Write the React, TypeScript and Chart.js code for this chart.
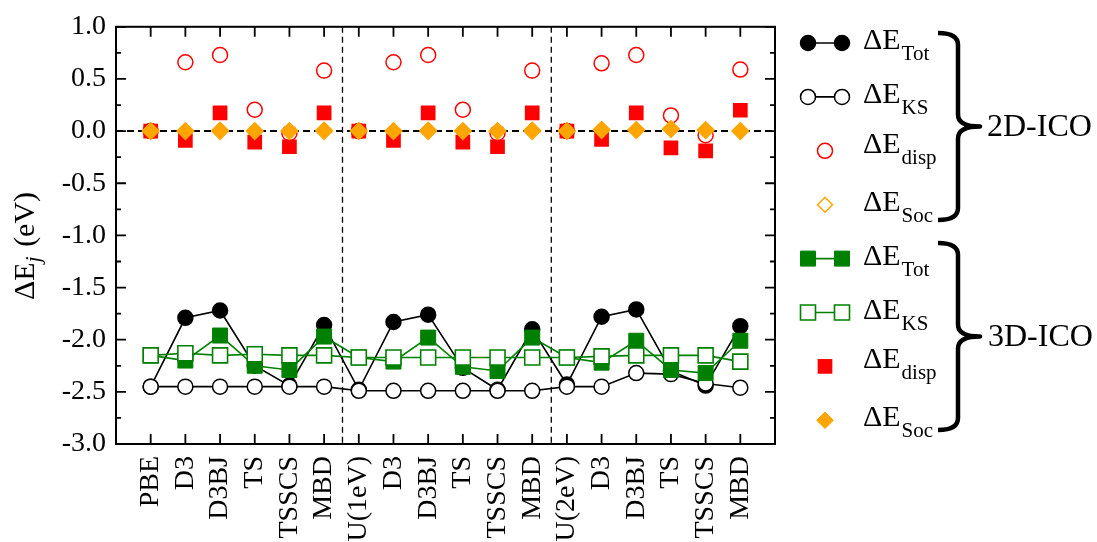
import React, { useEffect, useRef } from 'react';
import { Chart, registerables } from 'chart.js';

Chart.register(...registerables);

const SERIF = '"Liberation Serif", "Times New Roman", Times, serif';

// ---------- data ----------
const categories = [
  'PBE', 'D3', 'D3BJ', 'TS', 'TSSCS', 'MBD',
  'U(1eV)', 'D3', 'D3BJ', 'TS', 'TSSCS', 'MBD',
  'U(2eV)', 'D3', 'D3BJ', 'TS', 'TSSCS', 'MBD',
];

const groupSeparators = [5.53, 11.55];

const yMajorTicks = [-3.0, -2.5, -2.0, -1.5, -1.0, -0.5, 0.0, 0.5, 1.0];
const yMinorTicks = [-2.75, -2.25, -1.75, -1.25, -0.75, -0.25, 0.25, 0.75];

// 2D-ICO
const tot2D = [-2.45, -1.79, -1.72, -2.25, -2.44, -1.86, -2.48, -1.83, -1.76, -2.27, -2.48, -1.90, -2.43, -1.78, -1.71, -2.30, -2.44, -1.87];
const ks2D = [-2.45, -2.45, -2.45, -2.45, -2.45, -2.45, -2.49, -2.49, -2.49, -2.49, -2.49, -2.49, -2.45, -2.45, -2.32, -2.33, -2.42, -2.46];
const disp2D = [0.0, 0.66, 0.73, 0.205, -0.02, 0.58, 0.0, 0.66, 0.73, 0.205, -0.02, 0.58, 0.0, 0.65, 0.73, 0.15, -0.04, 0.59];
const soc2D = [0.0, 0.0, 0.0, 0.0, 0.0, 0.0, 0.0, 0.0, 0.0, 0.0, 0.0, 0.0, 0.0, 0.01, 0.01, 0.02, 0.01, 0.0];

// 3D-ICO
const tot3D = [-2.15, -2.20, -1.96, -2.25, -2.29, -1.97, -2.17, -2.21, -1.98, -2.26, -2.30, -1.98, -2.17, -2.22, -2.01, -2.29, -2.32, -2.01];
const ks3D = [-2.15, -2.13, -2.15, -2.14, -2.15, -2.15, -2.17, -2.17, -2.17, -2.17, -2.17, -2.17, -2.17, -2.16, -2.15, -2.15, -2.15, -2.21];
const disp3D = [0.0, -0.09, 0.175, -0.105, -0.15, 0.175, 0.0, -0.09, 0.175, -0.105, -0.15, 0.175, 0.0, -0.08, 0.175, -0.16, -0.19, 0.2];
const soc3D = [0.0, 0.0, 0.01, 0.0, 0.0, 0.01, 0.0, 0.0, 0.01, 0.0, 0.0, 0.01, 0.0, 0.016, 0.01, 0.02, 0.006, 0.0];

const legendSubs = ['Tot', 'KS', 'disp', 'Soc', 'Tot', 'KS', 'disp', 'Soc'];
const groupNames = ['2D-ICO', '3D-ICO'];

const toPts = (arr: number[]) => arr.map((v, i) => ({ x: i, y: v }));

// ---------- marker helper (for legend) ----------
function drawMarker(ctx: CanvasRenderingContext2D, style: string, x: number, y: number, r: number, fill: string, stroke: string, lw: number) {
  ctx.beginPath();
  if (style === 'circle') {
    ctx.arc(x, y, r, 0, Math.PI * 2);
  } else if (style === 'rect') {
    const s = r * Math.SQRT1_2;
    ctx.rect(x - s, y - s, 2 * s, 2 * s);
  } else {
    ctx.moveTo(x, y - r);
    ctx.lineTo(x + r, y);
    ctx.lineTo(x, y + r);
    ctx.lineTo(x - r, y);
    ctx.closePath();
  }
  ctx.fillStyle = fill;
  ctx.fill();
  if (lw > 0) {
    ctx.lineWidth = lw;
    ctx.strokeStyle = stroke;
    ctx.stroke();
  }
}

function drawBrace(ctx: CanvasRenderingContext2D, x0: number, yTop: number, yBot: number, tipX: number) {
  const xm = x0 + 20;
  const yMid = (yTop + yBot) / 2;
  const r = 12;
  ctx.beginPath();
  ctx.moveTo(x0, yTop);
  ctx.quadraticCurveTo(xm, yTop, xm, yTop + r);
  ctx.lineTo(xm, yMid - r);
  ctx.quadraticCurveTo(xm, yMid, tipX, yMid);
  ctx.quadraticCurveTo(xm, yMid, xm, yMid + r);
  ctx.lineTo(xm, yBot - r);
  ctx.quadraticCurveTo(xm, yBot, x0, yBot);
  ctx.stroke();
}

const decorPlugin = {
  id: 'decor',
  beforeDatasetsDraw(chart: any) {
    const { ctx, chartArea: a, scales } = chart;
    const xs = scales.x;
    const ys = scales.y;
    ctx.save();
    ctx.strokeStyle = '#000';
    ctx.lineWidth = 2;
    ctx.setLineDash([7, 4]);
    const y0 = ys.getPixelForValue(0);
    ctx.beginPath();
    ctx.moveTo(a.left, y0);
    ctx.lineTo(a.right, y0);
    ctx.stroke();
    ctx.lineWidth = 1.3;
    ctx.setLineDash([6, 4]);
    groupSeparators.forEach((s) => {
      const px = xs.getPixelForValue(s);
      ctx.beginPath();
      ctx.moveTo(px, a.top);
      ctx.lineTo(px, a.bottom);
      ctx.stroke();
    });
    ctx.restore();
  },
  afterDraw(chart: any) {
    const { ctx, chartArea: a, scales } = chart;
    const xs = scales.x;
    const ys = scales.y;
    ctx.save();
    ctx.strokeStyle = '#000';
    ctx.setLineDash([]);
    // ticks
    ctx.lineWidth = 1.8;
    categories.forEach((_, i) => {
      const px = xs.getPixelForValue(i);
      ctx.beginPath();
      ctx.moveTo(px, a.bottom);
      ctx.lineTo(px, a.bottom - 10);
      ctx.moveTo(px, a.top);
      ctx.lineTo(px, a.top + 10);
      ctx.stroke();
    });
    const yt = (v: number, len: number) => {
      const py = ys.getPixelForValue(v);
      ctx.beginPath();
      ctx.moveTo(a.left, py);
      ctx.lineTo(a.left + len, py);
      ctx.moveTo(a.right, py);
      ctx.lineTo(a.right - len, py);
      ctx.stroke();
    };
    yMajorTicks.forEach((v) => yt(v, 10));
    yMinorTicks.forEach((v) => yt(v, 5));
    // frame
    ctx.lineWidth = 2;
    ctx.strokeRect(a.left, a.top, a.right - a.left, a.bottom - a.top);

    // y-axis title
    ctx.save();
    ctx.fillStyle = '#000';
    ctx.textBaseline = 'alphabetic';
    const mainFont = `30px ${SERIF}`;
    const subFont = `italic 22px ${SERIF}`;
    ctx.font = mainFont;
    const w1 = ctx.measureText('ΔE').width;
    const w3 = ctx.measureText(' (eV)').width;
    ctx.font = subFont;
    const w2 = ctx.measureText('j').width + 2;
    const total = w1 + w2 + w3;
    ctx.translate(34, 246);
    ctx.rotate(-Math.PI / 2);
    let tx = -total / 2;
    ctx.font = mainFont;
    ctx.textAlign = 'left';
    ctx.fillText('ΔE', tx, 0);
    tx += w1;
    ctx.font = subFont;
    ctx.fillText('j', tx, 6);
    tx += w2;
    ctx.font = mainFont;
    ctx.fillText(' (eV)', tx, 0);
    ctx.restore();

    // legend
    const rowY0 = 43;
    const rowStep = 53.9;
    const baseOff = [6, 6, 2, 6, 6, 6, 2, 6];
    chart.data.datasets.forEach((ds: any, i: number) => {
      const ry = rowY0 + rowStep * i;
      const style = ds.pointStyle === 'rectRot' ? 'diamond' : ds.pointStyle;
      if (ds.showLine) {
        ctx.lineWidth = ds.borderWidth;
        ctx.strokeStyle = ds.borderColor;
        ctx.beginPath();
        ctx.moveTo(808, ry);
        ctx.lineTo(842, ry);
        ctx.stroke();
        drawMarker(ctx, style, 808, ry, ds.legendRadius, ds.pointBackgroundColor, ds.pointBorderColor, ds.pointBorderWidth);
        drawMarker(ctx, style, 842, ry, ds.legendRadius, ds.pointBackgroundColor, ds.pointBorderColor, ds.pointBorderWidth);
      } else {
        drawMarker(ctx, style, 825, ry, ds.legendRadius, ds.pointBackgroundColor, ds.pointBorderColor, ds.pointBorderWidth);
      }
      ctx.fillStyle = '#000';
      ctx.textAlign = 'left';
      ctx.textBaseline = 'alphabetic';
      ctx.font = `30px ${SERIF}`;
      const bl = ry + baseOff[i];
      ctx.fillText('ΔE', 863, bl);
      const w = ctx.measureText('ΔE').width;
      ctx.font = `21px ${SERIF}`;
      ctx.fillText(legendSubs[i], 863 + w + 1, bl + 11);
    });

    // braces + group names
    ctx.strokeStyle = '#000';
    ctx.lineWidth = 4.5;
    ctx.lineJoin = 'round';
    drawBrace(ctx, 938, 33, 220, 980);
    drawBrace(ctx, 938, 243, 430, 980);
    ctx.fillStyle = '#000';
    ctx.font = `32px ${SERIF}`;
    ctx.textBaseline = 'middle';
    ctx.textAlign = 'left';
    ctx.fillText(groupNames[0], 987, 128);
    ctx.fillText(groupNames[1], 988, 338);
    ctx.restore();
  },
};

export default function App() {
  const ref = useRef<HTMLCanvasElement | null>(null);

  useEffect(() => {
    if (!ref.current) return;
    const mk = (o: any) => o;
    const chart = new Chart(ref.current, {
      type: 'line',
      data: {
        datasets: [
          mk({
            label: 'ΔE Tot (2D)', data: toPts(tot2D), order: 8, showLine: true,
            borderColor: '#000', borderWidth: 1.6, pointStyle: 'circle', pointRadius: 7.5,
            pointBackgroundColor: '#000', pointBorderColor: '#000', pointBorderWidth: 1.5, legendRadius: 7.5,
          }),
          mk({
            label: 'ΔE KS (2D)', data: toPts(ks2D), order: 7, showLine: true,
            borderColor: '#000', borderWidth: 1.6, pointStyle: 'circle', pointRadius: 7.5,
            pointBackgroundColor: '#fff', pointBorderColor: '#000', pointBorderWidth: 1.5, legendRadius: 7.5,
          }),
          mk({
            label: 'ΔE disp (2D)', data: toPts(disp2D), order: 4, showLine: false,
            borderColor: '#ff0000', borderWidth: 0, pointStyle: 'circle', pointRadius: 7.5,
            pointBackgroundColor: 'rgba(0,0,0,0)', pointBorderColor: '#ff0000', pointBorderWidth: 1.5, legendRadius: 7.5,
          }),
          mk({
            label: 'ΔE Soc (2D)', data: toPts(soc2D), order: 2, showLine: false,
            borderColor: '#ffa500', borderWidth: 0, pointStyle: 'rectRot', pointRadius: 8.3,
            pointBackgroundColor: '#fff', pointBorderColor: '#ffa500', pointBorderWidth: 1.5, legendRadius: 7.5,
          }),
          mk({
            label: 'ΔE Tot (3D)', data: toPts(tot3D), order: 6, showLine: true,
            borderColor: '#008000', borderWidth: 1.6, pointStyle: 'rect', pointRadius: 10.6,
            pointBackgroundColor: '#008000', pointBorderColor: '#008000', pointBorderWidth: 1, legendRadius: 10.6,
          }),
          mk({
            label: 'ΔE KS (3D)', data: toPts(ks3D), order: 5, showLine: true,
            borderColor: '#008000', borderWidth: 1.6, pointStyle: 'rect', pointRadius: 10.6,
            pointBackgroundColor: '#fff', pointBorderColor: '#008000', pointBorderWidth: 1.6, legendRadius: 10.6,
          }),
          mk({
            label: 'ΔE disp (3D)', data: toPts(disp3D), order: 3, showLine: false,
            borderColor: '#ff0000', borderWidth: 0, pointStyle: 'rect', pointRadius: 10.4,
            pointBackgroundColor: '#ff0000', pointBorderColor: '#ff0000', pointBorderWidth: 0, legendRadius: 10.4,
          }),
          mk({
            label: 'ΔE Soc (3D)', data: toPts(soc3D), order: 1, showLine: false,
            borderColor: '#ffa500', borderWidth: 0, pointStyle: 'rectRot', pointRadius: 8.3,
            pointBackgroundColor: '#ffa500', pointBorderColor: '#ffa500', pointBorderWidth: 1, legendRadius: 8.3,
          }),
        ],
      },
      options: {
        animation: false,
        responsive: false,
        devicePixelRatio: 1,
        layout: { padding: { left: 0, top: 23, right: 322, bottom: 0 } },
        elements: { line: { tension: 0 } },
        plugins: {
          legend: { display: false },
          tooltip: { enabled: false },
        },
        scales: {
          x: {
            type: 'linear',
            min: -1,
            max: 18,
            afterBuildTicks: (s: any) => {
              s.ticks = categories.map((_, i) => ({ value: i }));
            },
            afterFit: (s: any) => {
              s.height = 98;
            },
            grid: { display: false, drawTicks: false },
            border: { display: false },
            ticks: {
              autoSkip: false,
              minRotation: 90,
              maxRotation: 90,
              padding: 12,
              color: '#000',
              font: { family: SERIF, size: 28 },
              callback: (v: any) => categories[Math.round(Number(v))] ?? '',
            },
          },
          y: {
            type: 'linear',
            min: -3,
            max: 1,
            afterBuildTicks: (s: any) => {
              s.ticks = yMajorTicks.map((v) => ({ value: v }));
            },
            afterFit: (s: any) => {
              s.width = 116;
            },
            grid: { display: false, drawTicks: false },
            border: { display: false },
            ticks: {
              padding: 10,
              color: '#000',
              font: { family: SERIF, size: 28 },
              callback: (v: any) => Number(v).toFixed(1),
            },
          },
        },
      } as any,
      plugins: [decorPlugin],
    });
    return () => chart.destroy();
  }, []);

  return (
    <div style={{ position: 'absolute', left: 0, top: 0, width: 1097, height: 542, background: '#fff' }}>
      <canvas ref={ref} width={1097} height={542} style={{ display: 'block', width: 1097, height: 542 }} />
    </div>
  );
}
